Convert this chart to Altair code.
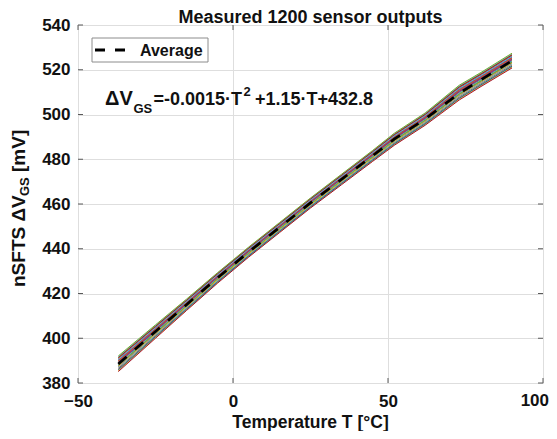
import altair as alt
import pandas as pd

# ---------------- data ----------------
temps = [-37, -25, -15, -5, 5, 15, 25, 35, 45, 52, 62, 73, 80, 90]
avg = [388.5, 403.0, 415.0, 427.0, 438.5, 449.5, 460.5, 471.0, 481.5, 489.0, 498.0, 509.5, 515.5, 524.0]
# lower / upper edge of the sensor bundle, relative to the average (mV)
band_low = [-3.4, -3.0, -2.6, -2.4, -2.3, -2.3, -2.3, -2.4, -2.5, -2.8, -2.8, -3.0, -3.0, -3.2]
band_high = [3.6, 3.0, 2.5, 2.3, 2.2, 2.2, 2.2, 2.3, 2.4, 2.6, 2.7, 3.6, 3.3, 3.4]
# relative position of each drawn sensor trace inside the bundle (0 = bottom, 1 = top)
sensor_pos = [0.50, 0.10, 0.85, 0.30, 0.65, 0.95, 0.20, 0.75, 0.40, 0.05,
              0.60, 0.90, 0.25, 0.80, 0.35, 0.55, 0.15, 0.70, 1.00, 0.45,
              0.88, 0.12, 0.68, 0.32, 0.58, 0.42, 0.78, 0.00]
matlab_colors = ["#0072BD", "#D95319", "#EDB120", "#7E2F8E", "#77AC30", "#4DBEEE", "#A2142F"]
x_ticks = [-50, 0, 50, 100]
y_ticks = [380, 400, 420, 440, 460, 480, 500, 520, 540]

# ---------------- tables ----------------
rows = []
sensor_ids = []
for i, f in enumerate(sensor_pos):
    sid = f"s{i:02d}"
    sensor_ids.append(sid)
    for t, a, lo, hi in zip(temps, avg, band_low, band_high):
        rows.append({"sensor": sid, "T": t, "V": a + lo + f * (hi - lo)})
df = pd.DataFrame(rows)
sensor_colors = [matlab_colors[i % len(matlab_colors)] for i in range(len(sensor_ids))]
avg_df = pd.DataFrame({"T": temps, "V": avg})
xt_df = pd.DataFrame({"T": x_ticks})
xlast_df = pd.DataFrame({"T": [x_ticks[-1]], "lab": [str(x_ticks[-1])]})
yt_df = pd.DataFrame({"V": y_ticks})
one = pd.DataFrame({"a": [0]})

W, H = 465, 358
X0, Y0 = 78, 25  # plot origin on the page
FONT = "Liberation Sans"
AX = "#5a5a5a"
TXT = "#111111"

xs = alt.Scale(domain=[-50, 100], nice=False, zero=False)
ys = alt.Scale(domain=[380, 540], nice=False, zero=False)

x_axis = alt.Axis(values=x_ticks, grid=True, gridColor="#dedede", gridWidth=1,
                  ticks=False, domain=False, labelFont=FONT, labelFontSize=17,
                  labelFontWeight="bold", labelColor=TXT, labelPadding=10,
                  labelFlush=False, title=None,
                  labelExpr="datum.value == 100 ? '' : datum.label")
y_axis = alt.Axis(values=y_ticks, grid=True, gridColor="#dedede", gridWidth=1,
                  ticks=False, domain=False, labelFont=FONT, labelFontSize=17,
                  labelFontWeight="bold", labelColor=TXT, labelPadding=8,
                  title=None)

X = alt.X("T:Q", scale=xs, axis=x_axis)
Y = alt.Y("V:Q", scale=ys, axis=y_axis)

sensors = alt.Chart(df).mark_line(strokeWidth=1, clip=True).encode(
    x=X, y=Y,
    color=alt.Color("sensor:N", scale=alt.Scale(domain=sensor_ids, range=sensor_colors), legend=None),
)

average = alt.Chart(avg_df).mark_line(color="black", strokeWidth=2.7, strokeDash=[11, 11]).encode(
    x=X, y=Y)

# inward ticks on all four sides
tick_b = alt.Chart(xt_df).mark_rule(color=AX, strokeWidth=1).encode(
    x=X, y=alt.value(H), y2=alt.value(H - 5))
tick_t = alt.Chart(xt_df).mark_rule(color=AX, strokeWidth=1).encode(
    x=X, y=alt.value(0), y2=alt.value(5))
tick_l = alt.Chart(yt_df).mark_rule(color=AX, strokeWidth=1).encode(
    y=Y, x=alt.value(0), x2=alt.value(5))
tick_r = alt.Chart(yt_df).mark_rule(color=AX, strokeWidth=1).encode(
    y=Y, x=alt.value(W), x2=alt.value(W - 5))

# last x tick label, kept inside the page
last_lab = alt.Chart(xlast_df).mark_text(align="right", baseline="top", dx=6, font=FONT,
                                         fontSize=17, fontWeight="bold", color=TXT).encode(
    x=X, y=alt.value(H + 10), text="lab:N")

# legend box
leg_box = alt.Chart(one).mark_rect(fill="white", stroke="#8c8c8c", strokeWidth=1).encode(
    x=alt.value(92 - X0), x2=alt.value(208 - X0), y=alt.value(38 - Y0), y2=alt.value(62 - Y0))
leg_line = alt.Chart(one).mark_rule(color="black", strokeWidth=3, strokeDash=[10, 10]).encode(
    x=alt.value(95 - X0), x2=alt.value(125 - X0), y=alt.value(50 - Y0))
leg_text = alt.Chart(one).mark_text(text="Average", align="left", baseline="alphabetic",
                                    font=FONT, fontSize=16, fontWeight="bold", color=TXT).encode(
    x=alt.value(140 - X0), y=alt.value(55.5 - Y0))

def txt(s, x, y, size, align="left", angle=0):
    m = dict(text=s, align=align, baseline="alphabetic", font=FONT, fontSize=size,
             fontWeight="bold", color=TXT)
    if angle:
        m["angle"] = angle
    return alt.Chart(one).mark_text(**m).encode(x=alt.value(x - X0), y=alt.value(y - Y0))

# equation annotation
eq = [
    txt("ΔV", 105, 105, 20),
    txt("GS", 133.5, 113, 13),
    txt("=-0.0015·T", 153.5, 105, 18),
    txt("2", 243.5, 96, 13),
    txt("+1.15·T+432.8", 255, 105, 18),
]

# titles
title = txt("Measured 1200 sensor outputs", 310.5, 23, 18, align="center")
xtitle = txt("Temperature T [°C]", 310.5, 427.5, 17.5, align="center")
ytitle = [
    txt("nSFTS ΔV", 25, 287, 19, align="left", angle=270),
    txt("GS", 29, 196, 13, align="left", angle=270),
    txt("[mV]", 25, 172, 19, align="left", angle=270),
]

chart = alt.layer(
    sensors, average, tick_b, tick_t, tick_l, tick_r, last_lab,
    leg_box, leg_line, leg_text, *eq, title, xtitle, *ytitle,
).properties(
    width=W, height=H,
    autosize=alt.AutoSizeParams(type="none"),
    padding={"left": X0 - 8, "top": Y0 - 8, "right": 6, "bottom": 48},
).configure_view(stroke=AX, strokeWidth=1).configure(background="white")

chart.save("out.html", embed_options={"renderer": "svg", "actions": False})
